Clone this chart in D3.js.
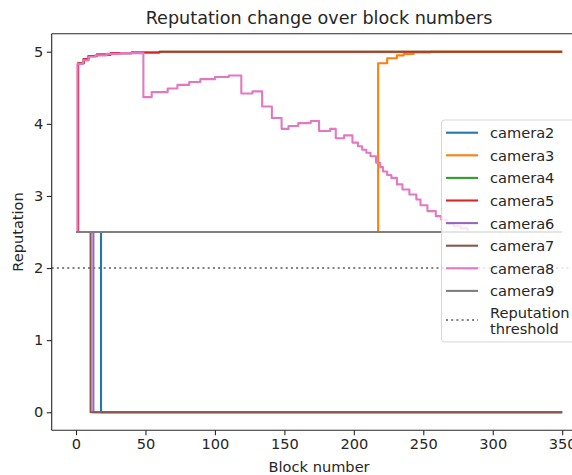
<!DOCTYPE html>
<html>
<head>
<meta charset="utf-8">
<script src="https://cdn.jsdelivr.net/npm/d3@7"></script>
<style>
  body { margin: 0; background: #fff; }
  svg { font-family: "DejaVu Sans", sans-serif; }
</style>
</head>
<body>
<div id="chart"></div>
<script>
// [block number, reputation] – each point holds until the next one
var camera2 = [[0, 2.5], [18, 0], [350, 0]];
var camera3 = [[0, 2.5], [217.5, 4.84], [224, 4.91], [231, 4.95], [236, 4.97], [243, 4.99], [255, 5.0], [350, 5.0]];
var camera4 = [[0, 2.5], [1.5, 4.84], [5.5, 4.90], [9, 4.94], [15, 4.96], [25, 4.98], [40, 4.99], [60, 5.0], [350, 5.0]];
var camera5 = [[0, 2.5], [1.5, 4.84], [5.5, 4.90], [9, 4.94], [15, 4.96], [25, 4.98], [40, 4.99], [60, 5.0], [350, 5.0]];
var camera6 = [[0, 2.5], [12.5, 0], [350, 0]];
var camera7 = [[0, 2.5], [10.5, 0], [350, 0]];
var camera8 = [[0, 2.5], [1, 4.83], [5, 4.88], [9, 4.93], [14, 4.95], [22, 4.97], [32, 4.98],
  [48.5, 4.37], [54.5, 4.44], [66, 4.49], [73, 4.54], [81.5, 4.58], [89.5, 4.62], [100, 4.65], [110, 4.67],
  [119, 4.42], [127, 4.45], [134, 4.24], [141, 4.08], [148, 3.93], [153, 3.97], [160, 4.01], [169, 4.04],
  [175, 3.90], [183, 3.93], [187, 3.80], [193, 3.84], [199, 3.74], [203, 3.69], [206, 3.64], [209, 3.60],
  [212, 3.55], [216, 3.46], [219, 3.40], [221, 3.34], [224, 3.29], [227, 3.25], [231, 3.16], [235, 3.09],
  [240, 3.02], [245, 2.95], [248, 2.87], [253, 2.79], [259, 2.72], [263, 2.67], [267, 2.62], [272, 2.58],
  [277, 2.55], [282, 2.5], [284, 2.5]];
var camera9 = [[0, 2.5], [350, 2.5]];

var seriesNames = ["camera2", "camera3", "camera4", "camera5", "camera6", "camera7", "camera8", "camera9"];
var seriesData = [camera2, camera3, camera4, camera5, camera6, camera7, camera8, camera9];
var seriesColors = ["#1f77b4", "#ff7f0e", "#2ca02c", "#d62728", "#9467bd", "#8c564b", "#e377c2", "#7f7f7f"];

var threshold = 2;
var xTicks = [0, 50, 100, 150, 200, 250, 300, 350];
var yTicks = [0, 1, 2, 3, 4, 5];

var width = 572, height = 475;
var plotL = 51.7, plotR = 586.5, plotT = 33.7, plotB = 430.3;
var fs = 14.6;
var lw = 2.1;

var svg = d3.select("#chart").append("svg")
    .attr("width", width)
    .attr("height", height);

var x = d3.scaleLinear().domain([-17.5, 367.5]).range([plotL, plotR]);
var y = d3.scaleLinear().domain([-0.25, 5.25]).range([plotB, plotT]);

svg.append("clipPath").attr("id", "plot")
  .append("rect")
    .attr("x", plotL).attr("y", plotT)
    .attr("width", plotR - plotL).attr("height", plotB - plotT);

var plot = svg.append("g").attr("clip-path", "url(#plot)");

// threshold line
plot.append("line")
    .attr("x1", plotL).attr("x2", plotR)
    .attr("y1", y(threshold)).attr("y2", y(threshold))
    .attr("stroke", "#808080")
    .attr("stroke-width", lw)
    .attr("stroke-dasharray", "2,3.2");

var line = d3.line()
    .x(function(d) { return x(d[0]); })
    .y(function(d) { return y(d[1]); })
    .curve(d3.curveStepAfter);

seriesData.forEach(function(data, i) {
  plot.append("path")
      .attr("d", line(data))
      .attr("fill", "none")
      .attr("stroke", seriesColors[i])
      .attr("stroke-width", lw)
      .attr("stroke-linejoin", "round");
});

// axes
var xAxis = svg.append("g")
    .attr("transform", "translate(0," + plotB + ")")
    .call(d3.axisBottom(x).tickValues(xTicks).tickSize(4.9).tickPadding(3.5));
var yAxis = svg.append("g")
    .attr("transform", "translate(" + plotL + ",0)")
    .call(d3.axisLeft(y).tickValues(yTicks).tickFormat(d3.format("d")).tickSize(4.9).tickPadding(3.5));

[xAxis, yAxis].forEach(function(a) {
  a.selectAll("text").attr("font-size", fs).attr("fill", "#262626").attr("font-family", "DejaVu Sans");
  a.selectAll(".tick line").attr("stroke", "#262626").attr("stroke-width", 1.1);
  a.select(".domain").remove();
});

svg.append("line")
    .attr("x1", plotL).attr("x2", plotL).attr("y1", plotT).attr("y2", plotB)
    .attr("stroke", "#262626").attr("stroke-width", 1.1);
svg.append("line")
    .attr("x1", plotL).attr("x2", plotR).attr("y1", plotT).attr("y2", plotT)
    .attr("stroke", "#262626").attr("stroke-width", 1.1);
svg.append("line")
    .attr("x1", plotL).attr("x2", plotR).attr("y1", plotB).attr("y2", plotB)
    .attr("stroke", "#262626").attr("stroke-width", 1.1);

// labels
svg.append("text")
    .attr("x", (plotL + plotR) / 2).attr("y", 24)
    .attr("text-anchor", "middle")
    .attr("font-size", 17.6).attr("fill", "#262626")
    .text("Reputation change over block numbers");

svg.append("text")
    .attr("x", (plotL + plotR) / 2).attr("y", 472)
    .attr("text-anchor", "middle")
    .attr("font-size", fs).attr("fill", "#262626")
    .text("Block number");

svg.append("text")
    .attr("transform", "translate(23," + ((plotT + plotB) / 2) + ") rotate(-90)")
    .attr("text-anchor", "middle")
    .attr("font-size", fs).attr("fill", "#262626")
    .text("Reputation");

// legend
var legend = svg.append("g");
legend.append("rect")
    .attr("x", 441.5).attr("y", 120)
    .attr("width", 150).attr("height", 222)
    .attr("rx", 3)
    .attr("fill", "#fff").attr("fill-opacity", 0.8)
    .attr("stroke", "#cccccc").attr("stroke-opacity", 0.8).attr("stroke-width", 1);

seriesNames.forEach(function(name, i) {
  var cy = 132.7 + i * 22.6;
  legend.append("line")
      .attr("x1", 446).attr("x2", 478)
      .attr("y1", cy).attr("y2", cy)
      .attr("stroke", seriesColors[i]).attr("stroke-width", lw);
  legend.append("text")
      .attr("x", 490).attr("y", cy)
      .attr("dominant-baseline", "central")
      .attr("font-size", fs).attr("fill", "#262626")
      .text(name);
});

var thrY = 320;
legend.append("line")
    .attr("x1", 446).attr("x2", 478)
    .attr("y1", thrY).attr("y2", thrY)
    .attr("stroke", "#808080").attr("stroke-width", lw)
    .attr("stroke-dasharray", "2,3.2");
legend.append("text")
    .attr("x", 490).attr("y", 312)
    .attr("dominant-baseline", "central")
    .attr("font-size", fs).attr("fill", "#262626")
    .text("Reputation");
legend.append("text")
    .attr("x", 490).attr("y", 328)
    .attr("dominant-baseline", "central")
    .attr("font-size", fs).attr("fill", "#262626")
    .text("threshold");
</script>
</body>
</html>
